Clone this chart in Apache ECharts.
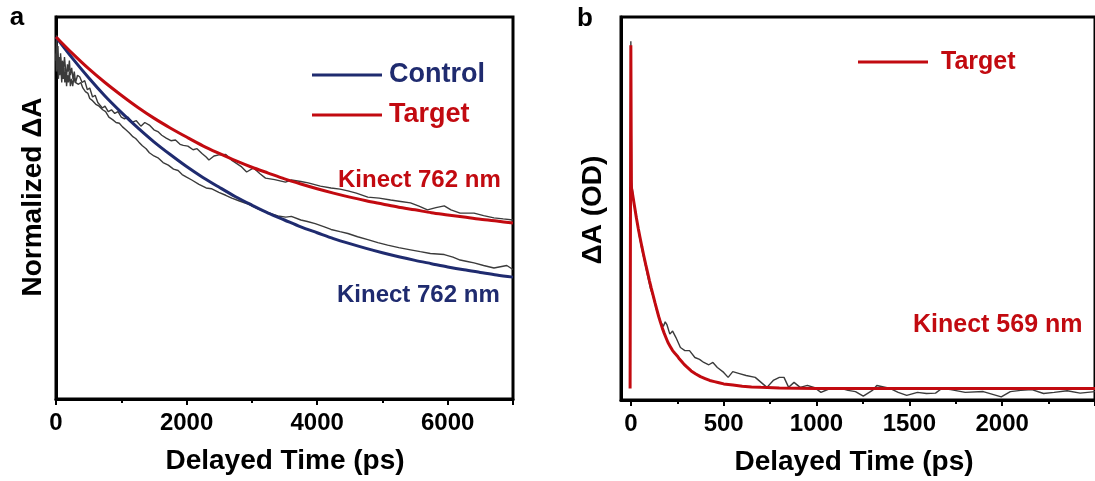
<!DOCTYPE html>
<html>
<head>
<meta charset="utf-8">
<script src="https://cdn.jsdelivr.net/npm/echarts@6/dist/echarts.min.js"></script>
<style>
  html, body { margin: 0; padding: 0; background: #fff; }
  #chart { width: 1095px; height: 481px; }
</style>
</head>
<body>
<div id="chart"></div>
<script>
// ---- Panel a: normalized kinetics at 762 nm (time in ps, ΔA normalized) ----
const fitTimeA = [0, 250, 500, 750, 1000, 1250, 1500, 1750, 2000, 2250, 2500, 2750, 3000, 3250,
  3500, 3750, 4000, 4250, 4500, 4750, 5000, 5250, 5500, 5750, 6000, 6250, 6500, 6750, 7000];
const controlFitA = [0.995, 0.937, 0.883, 0.833, 0.788, 0.746, 0.707, 0.672, 0.639, 0.609, 0.582,
  0.556, 0.533, 0.511, 0.492, 0.473, 0.457, 0.441, 0.427, 0.414, 0.402, 0.391, 0.381, 0.372,
  0.363, 0.355, 0.348, 0.341, 0.335];
const targetFitA = [0.995, 0.950, 0.908, 0.870, 0.835, 0.802, 0.772, 0.745, 0.720, 0.696, 0.675,
  0.655, 0.637, 0.621, 0.605, 0.591, 0.578, 0.566, 0.555, 0.545, 0.536, 0.527, 0.520, 0.512,
  0.506, 0.500, 0.494, 0.489, 0.484];

const controlTraceA = [
  [0,0.95],[8,0.90],[18,0.97],[28,0.92],[38,0.88],[48,0.93],[58,0.89],[68,0.94],[78,0.90],[88,0.87],
  [98,0.92],[110,0.88],[122,0.91],[135,0.87],[148,0.90],[162,0.86],[176,0.89],[190,0.87],[205,0.90],
  [220,0.86],[238,0.88],[256,0.86],[275,0.885],[295,0.87],[319,0.875],[345,0.865],[380,0.87],
  [411,0.855],[450,0.845],[490,0.84],[517,0.826],[560,0.82],[610,0.81],[660,0.805],[715,0.795],
  [760,0.79],[810,0.775],[867,0.768],[920,0.76],[970,0.758],[1019,0.748],[1070,0.74],[1120,0.732],
  [1171,0.722],[1220,0.716],[1270,0.706],[1323,0.696],[1380,0.688],[1430,0.677],[1500,0.668],
  [1570,0.662],[1640,0.65],[1720,0.643],[1800,0.632],[1870,0.628],[1932,0.617],[2000,0.61],
  [2080,0.602],[2190,0.59],[2300,0.58],[2380,0.578],[2494,0.568],[2600,0.56],[2692,0.552],
  [2800,0.545],[2951,0.535],[3100,0.522],[3250,0.512],[3400,0.503],[3520,0.50],[3605,0.502],
  [3750,0.492],[3850,0.488],[3970,0.482],[4100,0.474],[4213,0.466],[4350,0.46],[4471,0.455],
  [4620,0.446],[4776,0.438],[4930,0.43],[5080,0.423],[5250,0.416],[5430,0.41],[5580,0.405],
  [5734,0.40],[5947,0.397],[6080,0.39],[6190,0.382],[6300,0.378],[6403,0.374],[6550,0.367],
  [6708,0.36],[6905,0.367],[7000,0.356]
];
const targetTraceA = [
  [0,0.93],[10,1.0],[20,0.95],[30,0.97],[40,0.91],[50,0.94],[60,0.90],[70,0.95],[80,0.92],[90,0.89],
  [100,0.93],[115,0.90],[130,0.94],[145,0.91],[160,0.88],[175,0.92],[190,0.90],[205,0.93],[220,0.89],
  [240,0.91],[260,0.88],[280,0.90],[300,0.87],[330,0.89],[365,0.885],[400,0.87],[440,0.875],
  [480,0.85],[517,0.855],[560,0.83],[600,0.835],[640,0.815],[669,0.816],[710,0.80],[750,0.805],
  [800,0.79],[850,0.795],[900,0.785],[950,0.79],[1000,0.775],[1050,0.77],[1100,0.775],[1171,0.761],
  [1230,0.765],[1300,0.75],[1360,0.76],[1430,0.753],[1500,0.74],[1560,0.735],[1620,0.725],
  [1688,0.717],[1760,0.71],[1830,0.712],[1900,0.70],[1950,0.697],[2020,0.695],[2100,0.685],
  [2160,0.688],[2236,0.675],[2300,0.665],[2342,0.657],[2420,0.668],[2494,0.671],[2601,0.672],
  [2700,0.655],[2844,0.638],[2920,0.624],[3027,0.635],[3120,0.62],[3209,0.607],[3350,0.603],
  [3514,0.596],[3605,0.602],[3750,0.598],[3863,0.594],[4050,0.585],[4213,0.58],[4350,0.577],
  [4471,0.572],[4600,0.566],[4776,0.555],[4950,0.552],[5126,0.547],[5280,0.543],[5430,0.539],
  [5560,0.53],[5689,0.52],[5820,0.526],[5947,0.531],[6050,0.52],[6190,0.511],[6300,0.511],
  [6403,0.511],[6550,0.504],[6708,0.498],[6850,0.495],[7000,0.492]
];
const ticksA = [0, 2000, 4000, 6000];

// ---- Panel b: ΔA (OD) kinetics at 569 nm ----
const targetFitB = [
  [-4,0],[0,8.96],[3,5.25],[10,5.05],[20,4.75],[30,4.45],[40,4.18],[50,3.93],[60,3.69],[70,3.46],
  [80,3.24],[90,3.03],[100,2.82],[110,2.62],[120,2.43],[130,2.24],[140,2.06],[150,1.88],[160,1.72],
  [170,1.57],[180,1.44],[190,1.32],[200,1.20],[212,1.10],[225,0.99],[237,0.92],[250,0.85],
  [262,0.77],[275,0.70],[287,0.63],[300,0.57],[325,0.46],[350,0.38],[375,0.31],[400,0.26],
  [425,0.21],[450,0.18],[475,0.15],[500,0.12],[550,0.09],[600,0.06],[650,0.04],[700,0.03],
  [800,0.015],[900,0.01],[1000,0],[1500,0],[2000,0],[2500,0]
];
const targetTraceB = [
  [-6,0.13],[0,9.07],[4,5.4],[15,4.9],[30,4.5],[45,4.0],[60,3.62],[75,3.3],[90,2.95],[105,2.62],
  [120,2.4],[140,2.02],[160,1.75],[175,1.62],[185,1.74],[195,1.66],[210,1.42],[225,1.5],[243,1.33],
  [267,1.07],[291,0.99],[316,0.99],[345,0.81],[370,0.76],[393,0.68],[420,0.62],[442,0.68],
  [466,0.55],[500,0.42],[524,0.29],[549,0.44],[585,0.39],[621,0.34],[670,0.29],[733,0.03],
  [767,0.21],[800,0.29],[825,0.29],[850,0.03],[879,0.16],[912,0.03],[951,0.08],[990,0.02],
  [1024,-0.10],[1073,0.0],[1120,0.02],[1170,-0.05],[1210,-0.08],[1252,-0.20],[1301,-0.05],
  [1325,0.08],[1398,0.0],[1440,-0.1],[1486,-0.18],[1544,-0.10],[1592,-0.13],[1641,-0.12],
  [1675,0.0],[1723,-0.03],[1801,-0.10],[1898,-0.08],[1995,-0.22],[2044,-0.08],[2100,-0.05],
  [2160,-0.03],[2223,-0.13],[2280,-0.10],[2350,-0.06],[2420,-0.12],[2500,-0.08]
];
const ticksB = [0, 500, 1000, 1500, 2000];
const minorTicksB = [250, 750, 1250, 1750, 2250];

const RED = '#c20a10';
const NAVY = '#1f2b6f';
const GRAY = '#3b3b3b';
const FONT = '"Liberation Sans", Arial, Helvetica, sans-serif';

const chart = echarts.init(document.getElementById('chart'), null, { renderer: 'canvas' });

const tickLabel = { fontFamily: FONT, fontWeight: 'bold', fontSize: 24, color: '#000', margin: 12,
  formatter: v => String(v) };
const boxAxisLine = { show: true, onZero: false, lineStyle: { color: '#000', width: 3 } };
const legendLine = 'path://M0,0 L70,0 L70,3 L0,3 Z';

chart.setOption({
  animation: false,
  backgroundColor: '#fff',
  grid: [
    { left: 56, top: 17, width: 457, height: 382, show: true, borderColor: '#000', borderWidth: 3 },
    { left: 621, top: 17, width: 526, height: 383, show: true, borderColor: '#000', borderWidth: 3 }
  ],
  legend: [
    {
      orient: 'vertical', left: 307, top: 56, itemWidth: 70, itemHeight: 3, itemGap: 12,
      data: [
        { name: 'Control', icon: legendLine, textStyle: { color: NAVY } },
        { name: 'Target', icon: legendLine, textStyle: { color: RED } }
      ],
      textStyle: { fontFamily: FONT, fontWeight: 'bold', fontSize: 27, lineHeight: 28, padding: [0, 0, 0, 2] },
      selectedMode: false
    },
    {
      orient: 'vertical', left: 853, top: 43, itemWidth: 74, itemHeight: 3,
      data: [{ name: 'Target', icon: legendLine, textStyle: { color: RED } }],
      textStyle: { fontFamily: FONT, fontWeight: 'bold', fontSize: 25, lineHeight: 28, padding: [0, 0, 0, 6] },
      selectedMode: false
    }
  ],
  xAxis: [
    {
      type: 'value', gridIndex: 0, min: 0, max: 7000, interval: 2000, position: 'bottom',
      axisLine: boxAxisLine,
      axisTick: { show: true, inside: false, length: 6, lineStyle: { color: '#000', width: 2 } },
      minorTick: { show: true, splitNumber: 2, length: 4, lineStyle: { color: '#000', width: 2 } },
      axisLabel: Object.assign({ customValues: ticksA }, tickLabel),
      splitLine: { show: false }, minorSplitLine: { show: false }
    },
    {
      type: 'value', gridIndex: 1, min: -53, max: 2500, position: 'bottom',
      axisLine: boxAxisLine,
      axisTick: { show: true, inside: false, length: 6, customValues: ticksB.concat([2500]),
        lineStyle: { color: '#000', width: 2 } },
      axisLabel: Object.assign({ customValues: ticksB }, tickLabel),
      splitLine: { show: false }
    },
    {
      type: 'value', gridIndex: 1, min: -53, max: 2500, position: 'bottom', offset: 0,
      axisLine: { show: false, onZero: false },
      axisTick: { show: true, inside: false, length: 4, customValues: minorTicksB,
        lineStyle: { color: '#000', width: 2 } },
      axisLabel: { show: false },
      splitLine: { show: false }
    }
  ],
  yAxis: [
    {
      type: 'value', gridIndex: 0, min: 0, max: 1.05, position: 'left',
      axisLine: boxAxisLine, axisTick: { show: false }, axisLabel: { show: false },
      splitLine: { show: false }
    },
    {
      type: 'value', gridIndex: 1, min: -0.3, max: 9.7, position: 'left',
      axisLine: boxAxisLine, axisTick: { show: false }, axisLabel: { show: false },
      splitLine: { show: false }
    }
  ],
  series: [
    { name: 'Control data', type: 'line', xAxisIndex: 0, yAxisIndex: 0, data: controlTraceA,
      symbol: 'none', lineStyle: { color: GRAY, width: 1.4 }, z: 2 },
    { name: 'Target data', type: 'line', xAxisIndex: 0, yAxisIndex: 0, data: targetTraceA,
      symbol: 'none', lineStyle: { color: GRAY, width: 1.4 }, z: 2 },
    { name: 'Control', type: 'line', xAxisIndex: 0, yAxisIndex: 0,
      data: fitTimeA.map((t, i) => [t, controlFitA[i]]), smooth: 0.3,
      symbol: 'none', color: NAVY, lineStyle: { color: NAVY, width: 3 }, z: 3 },
    { name: 'Target', type: 'line', xAxisIndex: 0, yAxisIndex: 0,
      data: fitTimeA.map((t, i) => [t, targetFitA[i]]), smooth: 0.3,
      symbol: 'none', color: RED, lineStyle: { color: RED, width: 3 }, z: 3 },
    { name: 'Target data 569', type: 'line', xAxisIndex: 1, yAxisIndex: 1, data: targetTraceB,
      symbol: 'none', lineStyle: { color: GRAY, width: 1.4 }, z: 2 },
    { name: 'Target', type: 'line', xAxisIndex: 1, yAxisIndex: 1, data: targetFitB,
      symbol: 'none', color: RED, lineStyle: { color: RED, width: 3 }, z: 3 }
  ],
  graphic: [
    { type: 'text', x: 17, y: 18, style: { text: 'a', font: 'bold 26px ' + FONT, fill: '#000',
      textAlign: 'center', textVerticalAlign: 'middle', align: 'center', verticalAlign: 'middle' } },
    { type: 'text', x: 585, y: 19, style: { text: 'b', font: 'bold 26px ' + FONT, fill: '#000',
      textAlign: 'center', textVerticalAlign: 'middle', align: 'center', verticalAlign: 'middle' } },
    { type: 'text', x: 33, y: 197, rotation: Math.PI / 2, style: { text: 'Normalized ΔA',
      font: 'bold 28px ' + FONT, fill: '#000', textAlign: 'center', textVerticalAlign: 'middle',
      align: 'center', verticalAlign: 'middle' } },
    { type: 'text', x: 593, y: 210, rotation: Math.PI / 2, style: { text: 'ΔA (OD)',
      font: 'bold 28px ' + FONT, fill: '#000', textAlign: 'center', textVerticalAlign: 'middle',
      align: 'center', verticalAlign: 'middle' } },
    { type: 'text', x: 285, y: 461, style: { text: 'Delayed Time (ps)', font: 'bold 28px ' + FONT,
      fill: '#000', textAlign: 'center', textVerticalAlign: 'middle', align: 'center', verticalAlign: 'middle' } },
    { type: 'text', x: 854, y: 462, style: { text: 'Delayed Time (ps)', font: 'bold 28px ' + FONT,
      fill: '#000', textAlign: 'center', textVerticalAlign: 'middle', align: 'center', verticalAlign: 'middle' } },
    { type: 'text', x: 338, y: 180, style: { text: 'Kinect 762 nm', font: 'bold 24px ' + FONT,
      fill: RED, textAlign: 'left', textVerticalAlign: 'middle', align: 'left', verticalAlign: 'middle' } },
    { type: 'text', x: 337, y: 295, style: { text: 'Kinect 762 nm', font: 'bold 24px ' + FONT,
      fill: NAVY, textAlign: 'left', textVerticalAlign: 'middle', align: 'left', verticalAlign: 'middle' } },
    { type: 'text', x: 913, y: 325, style: { text: 'Kinect 569 nm', font: 'bold 25px ' + FONT,
      fill: RED, textAlign: 'left', textVerticalAlign: 'middle', align: 'left', verticalAlign: 'middle' } }
  ]
});
</script>
</body>
</html>
